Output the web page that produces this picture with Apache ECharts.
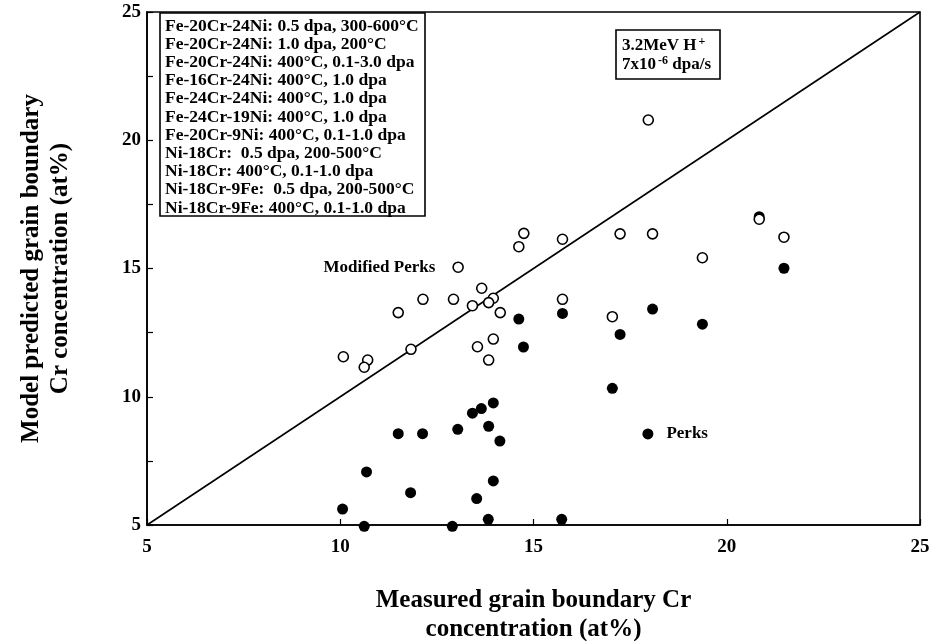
<!DOCTYPE html>
<html><head><meta charset="utf-8">
<script src="https://cdn.jsdelivr.net/npm/echarts@6/dist/echarts.min.js"></script>
<style>html,body{margin:0;padding:0;background:#fff}#c{width:933px;height:641px}</style>
</head><body><div id="c"></div>
<script>
// Measured grain boundary Cr (x) vs predicted (y)
const perksX = [14.62,15.75,14.74,17.24,17.04,13.42,13.65,13.96,18.08,20.84,21.48,19.37,17.96,11.50,12.13,13.04,13.84,14.13,10.68,13.96,11.82,13.53,10.06,13.83,15.73,10.62,12.90];
const perksY = [13.03,13.25,11.94,12.43,10.33,9.36,9.54,9.76,13.42,17.02,15.01,12.83,8.55,8.56,8.56,8.73,8.85,8.27,7.07,6.72,6.26,6.03,5.62,5.22,5.22,4.95,4.95];
const modX = [17.97,14.75,14.62,15.75,17.24,18.08,13.05,13.66,12.14,12.93,13.96,13.84,13.42,11.50,14.14,15.75,17.04,10.08,10.71,10.62,11.83,13.55,13.96,13.84,19.37,20.84,21.48];
const modY = [20.79,16.37,15.85,16.14,16.35,16.35,15.05,14.23,13.80,13.80,13.84,13.67,13.55,13.28,13.28,13.80,13.12,11.56,11.43,11.15,11.85,11.95,12.25,11.43,15.42,16.92,16.22];
const diagX = [5,25];
const legendLines = [
 'Fe-20Cr-24Ni: 0.5 dpa, 300-600°C',
 'Fe-20Cr-24Ni: 1.0 dpa, 200°C',
 'Fe-20Cr-24Ni: 400°C, 0.1-3.0 dpa',
 'Fe-16Cr-24Ni: 400°C, 1.0 dpa',
 'Fe-24Cr-24Ni: 400°C, 1.0 dpa',
 'Fe-24Cr-19Ni: 400°C, 1.0 dpa',
 'Fe-20Cr-9Ni: 400°C, 0.1-1.0 dpa',
 'Ni-18Cr:  0.5 dpa, 200-500°C',
 'Ni-18Cr: 400°C, 0.1-1.0 dpa',
 'Ni-18Cr-9Fe:  0.5 dpa, 200-500°C',
 'Ni-18Cr-9Fe: 400°C, 0.1-1.0 dpa'
];
const modLabelIndex = 6;   // "Modified Perks" annotation point
const perksLabelIndex = 12; // "Perks" annotation point

const F = '"Liberation Serif","DejaVu Serif",serif';
const chart = echarts.init(document.getElementById('c'));

const perksData = perksX.map((x,i)=>{
  const d = {value:[x,perksY[i]]};
  if(i===perksLabelIndex) d.label={show:true,position:'right',distance:13,formatter:'Perks',fontFamily:F,fontWeight:'bold',fontSize:17,color:'#000'};
  return d;
});
const modData = modX.map((x,i)=>{
  const d = {value:[x,modY[i]]};
  if(i===modLabelIndex) d.label={show:true,position:'left',distance:17,formatter:'Modified Perks',fontFamily:F,fontWeight:'bold',fontSize:17,color:'#000'};
  return d;
});

const axisCommon = {
  type:'value', min:5, max:25,
  splitLine:{show:false},
  axisLine:{show:true,lineStyle:{color:'#000',width:1.6}},
  axisTick:{show:true,inside:true,length:6,lineStyle:{color:'#000',width:1.2}},
  nameTextStyle:{fontFamily:F,fontWeight:'bold',fontSize:25,color:'#000',lineHeight:29}
};

chart.setOption({
  animation:false,
  grid:{left:147,right:13,top:12,bottom:116,show:true,borderColor:'#000',borderWidth:1.6,outerBoundsMode:'none',containLabel:false},
  xAxis:Object.assign({},axisCommon,{
    interval:5,
    axisLabel:{fontFamily:F,fontWeight:'bold',fontSize:19,color:'#000',margin:13},
    name:'Measured grain boundary Cr\nconcentration (at%)',
    nameLocation:'middle', nameGap:61
  }),
  yAxis:Object.assign({},axisCommon,{
    interval:2.5,
    axisLabel:{fontFamily:F,fontWeight:'bold',fontSize:19,color:'#000',margin:6,
      formatter:v=> (v%5===0? String(v):'')},
    name:'Model predicted grain boundary\nCr concentration (at%)',
    nameLocation:'middle', nameRotate:90, nameGap:72
  }),
  series:[
    {type:'line',data:diagX.map(v=>[v,v]),symbol:'none',lineStyle:{color:'#000',width:1.6},silent:true,z:1},
    {type:'scatter',data:modData,symbol:'circle',symbolSize:10,clip:false,
     itemStyle:{color:'#fff',borderColor:'#000',borderWidth:1.6,opacity:1},z:3},
    {type:'scatter',data:perksData,symbol:'circle',symbolSize:11,clip:false,
     itemStyle:{color:'#000',borderColor:'#000',borderWidth:0,opacity:1},z:2}
  ],
  graphic:[
    {type:'rect',shape:{x:160,y:13,width:265,height:203},style:{fill:'#fff',stroke:'#000',lineWidth:1.6},z:10},
    {type:'text',x:165,y:17,z:11,style:{text:legendLines.join('\n'),fontFamily:F,fontWeight:'bold',fontSize:17.5,lineHeight:18.2,fill:'#000'}},
    {type:'rect',shape:{x:616,y:30,width:104,height:49},style:{fill:'#fff',stroke:'#000',lineWidth:1.6},z:10},
    {type:'text',x:622,y:36,z:11,style:{
      text:'{n|3.2MeV H}{s|+}\n{n|7x10}{s|-6}{n| dpa/s}',
      rich:{n:{fontFamily:F,fontWeight:'bold',fontSize:17,lineHeight:19,fill:'#000'},
            s:{fontFamily:F,fontWeight:'bold',fontSize:12,lineHeight:19,verticalAlign:'top',fill:'#000',padding:[0,0,8,2]}},
      fill:'#000'}}
  ]
});
</script></body></html>
